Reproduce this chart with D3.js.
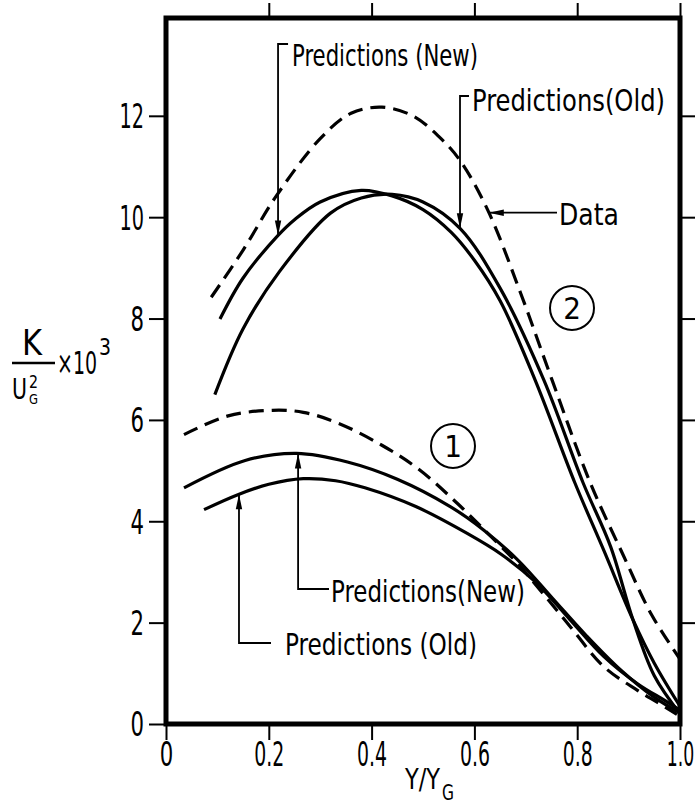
<!DOCTYPE html>
<html>
<head>
<meta charset="utf-8">
<script src="https://cdn.jsdelivr.net/npm/d3@7"></script>
<style>
  html, body { margin: 0; padding: 0; background: #fff; }
  svg { display: block; }
  text { font-family: "Liberation Sans Narrow", "DejaVu Sans Condensed", "Liberation Sans", sans-serif; fill: #000; }
</style>
</head>
<body>
<svg id="chart" width="695" height="807"></svg>
<script>
// Case 2 (upper family): Y/YG positions and K/UG^2 x 10^3 values
const data2X    = [0.088, 0.15, 0.214, 0.30, 0.36, 0.42, 0.48, 0.53, 0.572, 0.626, 0.69, 0.751, 0.825, 0.891, 0.945, 1.0];
const data2Y    = [8.42, 9.35, 10.41, 11.55, 12.05, 12.17, 12.0, 11.6, 11.12, 10.14, 8.5, 6.79, 4.77, 3.3, 2.15, 1.28];
const new2X     = [0.105, 0.15, 0.218, 0.25, 0.30, 0.38, 0.44, 0.50, 0.555, 0.60, 0.65, 0.718, 0.795, 0.852, 0.908, 0.95, 1.0];
const new2Y     = [7.99, 8.8, 9.64, 9.95, 10.3, 10.53, 10.42, 10.15, 9.7, 9.15, 8.35, 6.79, 4.77, 3.42, 2.07, 1.2, 0.35];
const old2X     = [0.095, 0.15, 0.221, 0.32, 0.38, 0.44, 0.50, 0.572, 0.65, 0.735, 0.811, 0.865, 0.908, 0.95, 1.0];
const old2Y     = [6.5, 7.8, 8.93, 10.08, 10.38, 10.45, 10.3, 9.78, 8.6, 6.79, 4.77, 3.5, 2.07, 0.95, 0.2];

// Case 1 (lower family)
const data1X    = [0.035, 0.121, 0.207, 0.267, 0.334, 0.42, 0.49, 0.566, 0.633, 0.686, 0.72, 0.785, 0.852, 0.918, 0.957, 0.994];
const data1Y    = [5.71, 6.08, 6.19, 6.15, 5.94, 5.5, 5.04, 4.36, 3.69, 3.15, 2.74, 1.94, 1.13, 0.66, 0.42, 0.19];
const new1X     = [0.035, 0.154, 0.254, 0.353, 0.45, 0.553, 0.619, 0.686, 0.752, 0.818, 0.884, 0.951, 1.0];
const new1Y     = [4.66, 5.2, 5.34, 5.17, 4.83, 4.29, 3.82, 3.22, 2.48, 1.74, 1.07, 0.52, 0.22];
const old1X     = [0.074, 0.141, 0.20, 0.267, 0.33, 0.387, 0.486, 0.586, 0.652, 0.718, 0.785, 0.852, 0.918, 0.971, 1.0];
const old1Y     = [4.23, 4.53, 4.73, 4.84, 4.8, 4.66, 4.29, 3.76, 3.35, 2.81, 2.07, 1.33, 0.79, 0.46, 0.27];

// Axis ticks
const xTicks = [0, 0.2, 0.4, 0.6, 0.8, 1.0];
const xTickLabels = ["0", "0.2", "0.4", "0.6", "0.8", "1.0"];
const yTicks = [0, 2, 4, 6, 8, 10, 12];
const yTickLabels = ["0", "2", "4", "6", "8", "10", "12"];

const svg = d3.select("#chart");
const x = d3.scaleLinear().domain([0, 1]).range([166, 680]);
const y = d3.scaleLinear().domain([0, 13.93]).range([724, 18]);

const zip = (xs, ys) => xs.map((v, i) => [v, ys[i]]);
const line = d3.line().x(d => x(d[0])).y(d => y(d[1])).curve(d3.curveCatmullRom.alpha(0.5));

// value of a series at a given x by linear interpolation between the read points
function at(xs, ys, xv) {
  for (let i = 1; i < xs.length; i++) {
    if (xv <= xs[i]) {
      const t = (xv - xs[i - 1]) / (xs[i] - xs[i - 1]);
      return ys[i - 1] + t * (ys[i] - ys[i - 1]);
    }
  }
  return ys[ys.length - 1];
}

// narrow lettering: squeeze a label to a width set by its characters
const narrowWidth = s => Array.from(s).reduce((w, ch) => w + (ch === "." ? 3 : (ch === "1" ? 11 : 13.5)), 0);

// ---- axes: outward ticks on all four sides ----
const axisStyle = g => {
  g.select(".domain").remove();
  g.selectAll(".tick line").attr("stroke", "#000").attr("stroke-width", 2);
};

svg.append("g")
  .attr("transform", `translate(${x(0)},0)`)
  .call(d3.axisLeft(y).tickValues(yTicks).tickSize(17).tickPadding(5)
    .tickFormat((d, i) => yTickLabels[i]))
  .call(axisStyle)
  .call(g => g.selectAll(".tick text")
    .attr("font-size", 33).attr("dy", "0.36em")
    .attr("textLength", function () { return narrowWidth(this.textContent); })
    .attr("lengthAdjust", "spacingAndGlyphs"));

svg.append("g")
  .attr("transform", `translate(${x(1)},0)`)
  .call(d3.axisRight(y).tickValues(yTicks.filter(d => d > 0)).tickSize(16).tickFormat(""))
  .call(axisStyle);

svg.append("g")
  .attr("transform", `translate(0,${y(0)})`)
  .call(d3.axisBottom(x).tickValues(xTicks).tickSize(16).tickPadding(3)
    .tickFormat((d, i) => xTickLabels[i]))
  .call(axisStyle)
  .call(g => g.selectAll(".tick text")
    .attr("font-size", 33).attr("dy", "0.71em")
    .attr("textLength", function () { return narrowWidth(this.textContent); })
    .attr("lengthAdjust", "spacingAndGlyphs"));

svg.append("g")
  .attr("transform", `translate(0,${y(13.93)})`)
  .call(d3.axisTop(x).tickValues(xTicks.filter(d => d > 0)).tickSize(15).tickFormat(""))
  .call(axisStyle);

// frame
svg.append("rect")
  .attr("x", x(0)).attr("y", y(13.93))
  .attr("width", x(1) - x(0)).attr("height", y(0) - y(13.93))
  .attr("fill", "none").attr("stroke", "#000").attr("stroke-width", 5);

// ---- curves ----
const curves = [
  { pts: zip(data2X, data2Y), dash: "15,8" },
  { pts: zip(new2X, new2Y), dash: null },
  { pts: zip(old2X, old2Y), dash: null },
  { pts: zip(data1X, data1Y), dash: "15,8" },
  { pts: zip(new1X, new1Y), dash: null },
  { pts: zip(old1X, old1Y), dash: null }
];
svg.append("g").selectAll("path").data(curves).join("path")
  .attr("d", d => line(d.pts))
  .attr("fill", "none")
  .attr("stroke", "#000")
  .attr("stroke-width", 3.2)
  .attr("stroke-linecap", "butt")
  .attr("stroke-dasharray", d => d.dash);

// ---- annotations ----
const ann = svg.append("g");
function arrowHead(tx, ty, dir) {
  // narrow filled head with its tip at (tx,ty); dir: "down" | "up" | "left"
  const L = 15, W = 3.2;
  let p;
  if (dir === "down") p = [[tx, ty], [tx - W, ty - L], [tx + W, ty - L]];
  else if (dir === "up") p = [[tx, ty], [tx - W, ty + L], [tx + W, ty + L]];
  else p = [[tx, ty], [tx + L, ty - W], [tx + L, ty + W]];
  ann.append("path").attr("d", "M" + p.join("L") + "Z").attr("fill", "#000");
}
function leader(d) {
  ann.append("path").attr("d", d).attr("fill", "none")
    .attr("stroke", "#000").attr("stroke-width", 1.8);
}
function label(txt, tx, ty, len, size) {
  ann.append("text").attr("x", tx).attr("y", ty)
    .attr("font-size", size || 31)
    .attr("textLength", len).attr("lengthAdjust", "spacingAndGlyphs")
    .text(txt);
}

// upper family: new prediction
{
  const xv = 0.218, tx = x(xv), ty = y(at(new2X, new2Y, xv));
  leader(`M${tx + 10},44H${tx}V${ty}`);
  arrowHead(tx, ty, "down");
  label("Predictions (New)", 292, 66, 186);
}
// upper family: old prediction
{
  const xv = 0.572, tx = x(xv), ty = y(at(old2X, old2Y, xv));
  leader(`M${tx + 9},96H${tx}V${ty}`);
  arrowHead(tx, ty, "down");
  label("Predictions(Old)", 472, 111, 193);
}
// upper family: data
{
  const xv = 0.628, tx = x(xv), ty = y(at(data2X, data2Y, xv));
  leader(`M557,${ty}H${tx}`);
  arrowHead(tx, ty, "left");
  label("Data", 559, ty + 12, 60);
}
// lower family: new prediction
{
  const xv = 0.257, tx = x(xv), ty = y(at(new1X, new1Y, xv));
  leader(`M${tx},${ty}V589H329`);
  arrowHead(tx, ty, "up");
  label("Predictions(New)", 331, 602, 194);
}
// lower family: old prediction
{
  const xv = 0.142, tx = x(xv), ty = y(at(old1X, old1Y, xv));
  leader(`M${tx},${ty}V643H271`);
  arrowHead(tx, ty, "up");
  label("Predictions (Old)", 285, 655, 192);
}

// case markers
const cases = [{ n: "2", cx: 572, cy: 308 }, { n: "1", cx: 453, cy: 446 }];
cases.forEach(c => {
  ann.append("circle").attr("cx", c.cx).attr("cy", c.cy).attr("r", 22)
    .attr("fill", "none").attr("stroke", "#000").attr("stroke-width", 2);
  ann.append("text").attr("x", c.cx).attr("y", c.cy + 11).attr("text-anchor", "middle")
    .attr("font-size", 31).text(c.n);
});

// ---- axis titles ----
const xt = svg.append("g");
xt.append("text").attr("x", 405).attr("y", 789).attr("font-size", 29)
  .attr("textLength", 35).attr("lengthAdjust", "spacingAndGlyphs").text("Y/Y");
xt.append("text").attr("x", 442).attr("y", 800).attr("font-size", 21)
  .attr("textLength", 12).attr("lengthAdjust", "spacingAndGlyphs").text("G");

const yt = svg.append("g");
yt.append("text").attr("x", 32).attr("y", 355).attr("text-anchor", "middle").attr("font-size", 36)
  .attr("textLength", 20).attr("lengthAdjust", "spacingAndGlyphs").text("K");
yt.append("line").attr("x1", 12).attr("x2", 55).attr("y1", 363).attr("y2", 363)
  .attr("stroke", "#000").attr("stroke-width", 2.5);
yt.append("text").attr("x", 12).attr("y", 399).attr("font-size", 29)
  .attr("textLength", 15).attr("lengthAdjust", "spacingAndGlyphs").text("U");
yt.append("text").attr("x", 29).attr("y", 388).attr("font-size", 17)
  .attr("textLength", 9).attr("lengthAdjust", "spacingAndGlyphs").text("2");
yt.append("text").attr("x", 29).attr("y", 404).attr("font-size", 14)
  .attr("textLength", 9).attr("lengthAdjust", "spacingAndGlyphs").text("G");
yt.append("text").attr("x", 57).attr("y", 374).attr("font-size", 32)
  .attr("textLength", 40).attr("lengthAdjust", "spacingAndGlyphs").text("×10");
yt.append("text").attr("x", 99).attr("y", 355).attr("font-size", 23)
  .attr("textLength", 12).attr("lengthAdjust", "spacingAndGlyphs").text("3");
</script>
</body>
</html>
